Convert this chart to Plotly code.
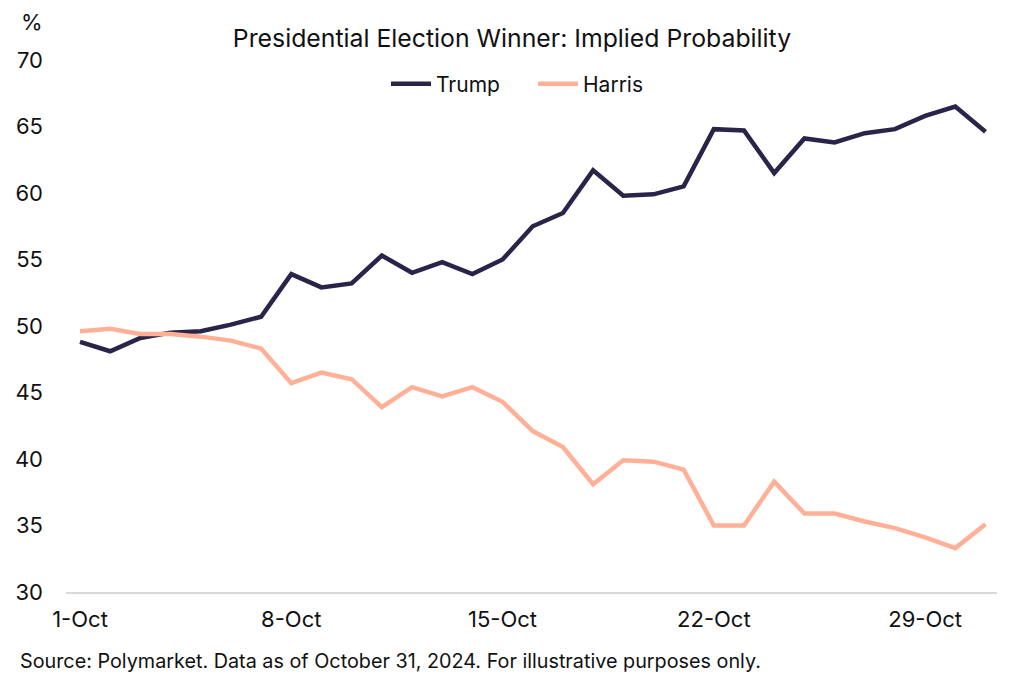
import plotly.graph_objects as go

dates = [f"2024-10-{d:02d}" for d in range(1, 32)]
trump = [48.8, 48.1, 49.1, 49.5, 49.6, 50.1, 50.7, 53.9, 52.9, 53.2,
         55.3, 54.0, 54.8, 53.9, 55.0, 57.5, 58.5, 61.7, 59.8, 59.9,
         60.5, 64.8, 64.7, 61.5, 64.1, 63.8, 64.5, 64.8, 65.8, 66.5, 64.6]
harris = [49.6, 49.8, 49.4, 49.4, 49.2, 48.9, 48.3, 45.7, 46.5, 46.0,
          43.9, 45.4, 44.7, 45.4, 44.3, 42.1, 40.9, 38.1, 39.9, 39.8,
          39.2, 35.0, 35.0, 38.3, 35.9, 35.9, 35.3, 34.8, 34.1, 33.3, 35.1]
xtick_vals = ["2024-10-01", "2024-10-08", "2024-10-15", "2024-10-22", "2024-10-29"]
xtick_text = ["1-Oct", "8-Oct", "15-Oct", "22-Oct", "29-Oct"]
ytick_vals = [30, 35, 40, 45, 50, 55, 60, 65, 70]

FONT = "Inter"
TXT = "#111111"
W, H = 1024, 683
OFF = 8  # page body margin offset
# target screen positions from reference
SL, ST, SR, SB = 66, 60, 997, 592
L, T = SL - OFF, ST - OFF
R, B = W - (SR - OFF), H - (SB - OFF)
PW, PH = W - L - R, H - T - B


def px_x(x):
    return (x - OFF - L) / PW


def px_y(y):
    return (H - B - (y - OFF)) / PH


fig = go.Figure()
fig.add_trace(go.Scatter(x=dates, y=trump, name="Trump", mode="lines",
                         line=dict(color="#2b2449", width=4.5)))
fig.add_trace(go.Scatter(x=dates, y=harris, name="Harris", mode="lines",
                         line=dict(color="#ffb097", width=4.5)))

fig.update_layout(
    width=W, height=H,
    margin=dict(l=L, r=R, t=T, b=B, autoexpand=False),
    paper_bgcolor="white", plot_bgcolor="white",
    font=dict(family=FONT, color=TXT, size=22),
    title=dict(text="Presidential Election Winner: Implied Probability",
               x=(512 - OFF) / W, xanchor="center", y=1 - (38 - OFF) / H, yanchor="middle",
               font=dict(size=24.8, family=FONT, color=TXT)),
    legend=dict(orientation="h", x=px_x(386), xanchor="left", y=px_y(84),
                yanchor="middle", entrywidth=92, entrywidthmode="pixels",
                font=dict(size=21, family=FONT, color=TXT),
                bgcolor="rgba(0,0,0,0)", itemwidth=40),
    showlegend=True,
    annotations=[
        dict(text="%", x=px_x(32), y=px_y(22), xref="paper", yref="paper",
             xanchor="center", yanchor="middle", showarrow=False,
             font=dict(size=22, family=FONT, color=TXT)),
        dict(text="Source: Polymarket. Data as of October 31, 2024. For illustrative purposes only.",
             x=px_x(18), y=px_y(661), xref="paper", yref="paper",
             xanchor="left", yanchor="middle", showarrow=False,
             font=dict(size=19.8, family=FONT, color=TXT)),
    ],
)

fig.update_xaxes(
    type="date",
    range=["2024-09-30 12:52", "2024-10-31 09:10"],
    tickvals=xtick_vals, ticktext=xtick_text,
    showgrid=False, zeroline=False,
    showline=True, linecolor="#d9d9d9", linewidth=1.5,
    ticks="", ticklabelstandoff=7,
    tickfont=dict(size=22, family=FONT, color=TXT),
)
fig.update_yaxes(
    range=[30, 70], tickvals=ytick_vals,
    showgrid=False, zeroline=False, showline=False,
    ticks="", ticklabelstandoff=22,
    tickfont=dict(size=22, family=FONT, color=TXT),
)

fig.write_html("out.html")
